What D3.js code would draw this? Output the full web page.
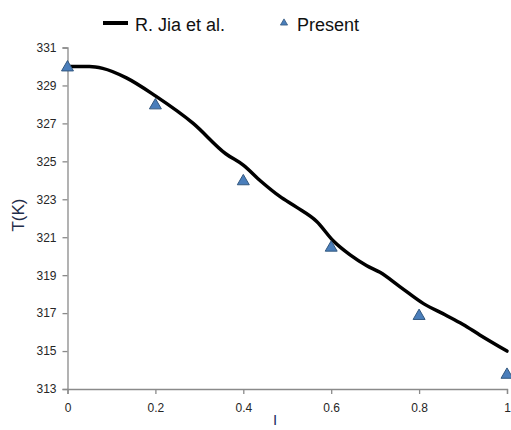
<!DOCTYPE html>
<html>
<head>
<meta charset="utf-8">
<script src="https://cdn.jsdelivr.net/npm/d3@7"></script>
<style>
  html, body { margin: 0; padding: 0; background: #fff; }
  svg { display: block; }
</style>
</head>
<body>
<svg id="chart" width="511" height="430"></svg>
<script>
// Reference solution (R. Jia et al.): temperature vs I
const refI = [0, 0.05, 0.08, 0.134, 0.2, 0.286, 0.36, 0.4, 0.44, 0.483, 0.52, 0.567, 0.605, 0.643, 0.681, 0.711, 0.756, 0.81, 0.86, 0.9, 0.938, 1.0];
const refT = [330, 330, 329.9, 329.4, 328.45, 327.0, 325.4, 324.8, 323.95, 323.15, 322.6, 321.83, 320.8, 320.07, 319.5, 319.15, 318.4, 317.5, 316.9, 316.4, 315.85, 315.0];

// Present results
const presentI = [0, 0.2, 0.4, 0.6, 0.8, 1.0];
const presentT = [330, 328, 324, 320.5, 316.9, 313.8];

// Axis ticks
const xTicks = [0, 0.2, 0.4, 0.6, 0.8, 1];
const yTicks = [313, 315, 317, 319, 321, 323, 325, 327, 329, 331];

const seriesNames = ["R. Jia et al.", "Present"];

const svg = d3.select("#chart");
const plotLeft = 67.5, plotRight = 507, plotTop = 47.5, plotBottom = 389;

const x = d3.scaleLinear().domain([0, 1]).range([plotLeft, plotRight]);
const y = d3.scaleLinear().domain([313, 331]).range([plotBottom, plotTop]);

const axisColor = "#8a8a8a";
const labelFont = "'Liberation Sans', Arial, sans-serif";

// Y axis
const yAxis = svg.append("g")
  .attr("transform", `translate(${plotLeft},0)`)
  .call(d3.axisLeft(y).tickValues(yTicks).tickFormat(d3.format("d")).tickSize(5).tickPadding(6));
yAxis.select(".domain").attr("stroke", axisColor).attr("stroke-width", 1.3);
yAxis.selectAll(".tick line").attr("stroke", axisColor).attr("stroke-width", 1.3);
yAxis.selectAll(".tick text")
  .attr("fill", "#262626")
  .style("font-family", labelFont)
  .style("font-size", "12px");

// X axis
const xAxis = svg.append("g")
  .attr("transform", `translate(0,${plotBottom})`)
  .call(d3.axisBottom(x).tickValues(xTicks).tickFormat(d => d3.format("")(d)).tickSize(5).tickPadding(9));
xAxis.select(".domain").attr("stroke", axisColor).attr("stroke-width", 1.3);
xAxis.selectAll(".tick line").attr("stroke", axisColor).attr("stroke-width", 1.3);
xAxis.selectAll(".tick text")
  .attr("fill", "#262626")
  .style("font-family", labelFont)
  .style("font-size", "12px");

// Axis titles
svg.append("text")
  .attr("transform", `translate(24,215) rotate(-90)`)
  .attr("text-anchor", "middle")
  .attr("fill", "#1f2d4a")
  .style("font-family", labelFont)
  .style("font-size", "17px")
  .text("T(K)");

svg.append("text")
  .attr("x", 275)
  .attr("y", 425)
  .attr("text-anchor", "middle")
  .attr("fill", "#1f3160")
  .style("font-family", labelFont)
  .style("font-size", "15px")
  .text("I");

// Reference curve
const line = d3.line()
  .x((d, i) => x(refI[i]))
  .y(d => y(d))
  .curve(d3.curveMonotoneX);

svg.append("path")
  .datum(refT)
  .attr("fill", "none")
  .attr("stroke", "#000")
  .attr("stroke-width", 3.5)
  .attr("stroke-linejoin", "round")
  .attr("stroke-linecap", "round")
  .attr("d", line);

// Triangle markers
const tri = d3.symbol().type(d3.symbolTriangle).size(62);
svg.append("g").selectAll("path")
  .data(presentT)
  .join("path")
  .attr("transform", (d, i) => `translate(${x(presentI[i])},${y(d) + 1})`)
  .attr("d", tri)
  .attr("fill", "#4a7ebb")
  .attr("stroke", "#33587f")
  .attr("stroke-width", 1);

// Legend
const legend = svg.append("g");
legend.append("line")
  .attr("x1", 103).attr("x2", 128)
  .attr("y1", 23).attr("y2", 23)
  .attr("stroke", "#000").attr("stroke-width", 4);
legend.append("text")
  .attr("x", 135).attr("y", 31)
  .attr("fill", "#111")
  .style("font-family", labelFont)
  .style("font-size", "18px")
  .text(seriesNames[0]);
legend.append("path")
  .attr("transform", "translate(284,23)")
  .attr("d", d3.symbol().type(d3.symbolTriangle).size(22))
  .attr("fill", "#4a7ebb")
  .attr("stroke", "#33587f")
  .attr("stroke-width", 0.8);
legend.append("text")
  .attr("x", 297).attr("y", 31)
  .attr("fill", "#111")
  .style("font-family", labelFont)
  .style("font-size", "18px")
  .text(seriesNames[1]);
</script>
</body>
</html>
